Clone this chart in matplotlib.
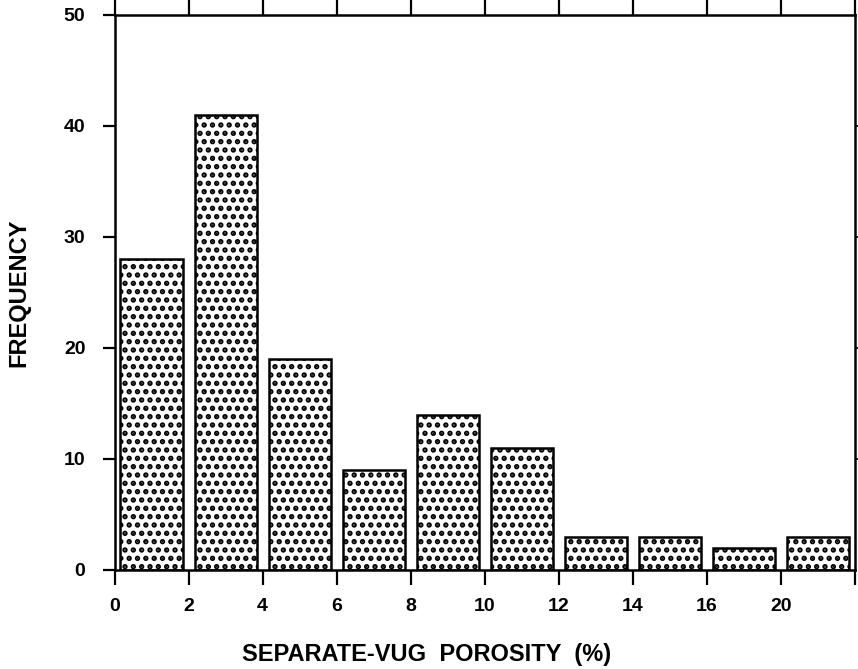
import matplotlib
matplotlib.use("Agg")
import matplotlib.pyplot as plt

# Data
bin_centers = [1, 3, 5, 7, 9, 11, 13, 15, 17, 19]
frequency = [28, 41, 19, 9, 14, 11, 3, 3, 2, 3]
x_tick_positions = [0, 2, 4, 6, 8, 10, 12, 14, 16, 18, 20]
x_tick_labels = ["0", "2", "4", "6", "8", "10", "12", "14", "16", "20", ""]
y_ticks = [0, 10, 20, 30, 40, 50]

plt.rcParams['font.family'] = ['Liberation Sans', 'DejaVu Sans']
plt.rcParams['font.weight'] = 'bold'
plt.rcParams['hatch.linewidth'] = 2.6

fig = plt.figure(figsize=(8.58, 6.69), dpi=100)
ax = fig.add_axes([0.1335, 0.148, 0.863, 0.8296])

ax.bar(bin_centers, frequency, width=1.68, facecolor='white', edgecolor='black',
       linewidth=1.8, hatch='..', zorder=2)

ax.set_xlim(0, 20)
ax.set_ylim(0, 50)
ax.set_xticks(x_tick_positions)
ax.set_xticklabels(x_tick_labels, fontsize=14, fontweight='bold')
ax.set_yticks(y_ticks)
ax.set_yticklabels([str(v) for v in y_ticks], fontsize=14, fontweight='bold')

for s in ax.spines.values():
    s.set_linewidth(1.8)

ax.tick_params(axis='x', which='both', direction='out', length=11, width=1.6,
               top=True, labeltop=False, pad=9)
ax.tick_params(axis='y', which='both', direction='out', length=9, width=1.6,
               left=True, right=False, pad=12)
# tiny right-side ticks
ax2 = ax.twinx()
ax2.set_ylim(0, 50)
ax2.set_yticks([10, 20, 30, 40])
ax2.set_yticklabels([])
ax2.tick_params(axis='y', direction='out', length=3, width=1.2)
for s in ax2.spines.values():
    s.set_visible(False)

ax.set_xlabel("SEPARATE-VUG  POROSITY  (%)", fontsize=17, fontweight='bold')
ax.set_ylabel("FREQUENCY", fontsize=17, fontweight='bold')
# place labels: x label center ~ (427, 655) px; y label center ~ (19, 292) px
ax.xaxis.set_label_coords((427 - 114.5) / 740.5, -(655 - 570) / 555.0)
ax.yaxis.set_label_coords(-(114.5 - 19) / 740.5, (570 - 293) / 555.0)
ax.xaxis.label.set_va('center')
ax.yaxis.label.set_va('center')

fig.savefig("out.png", dpi=100)
